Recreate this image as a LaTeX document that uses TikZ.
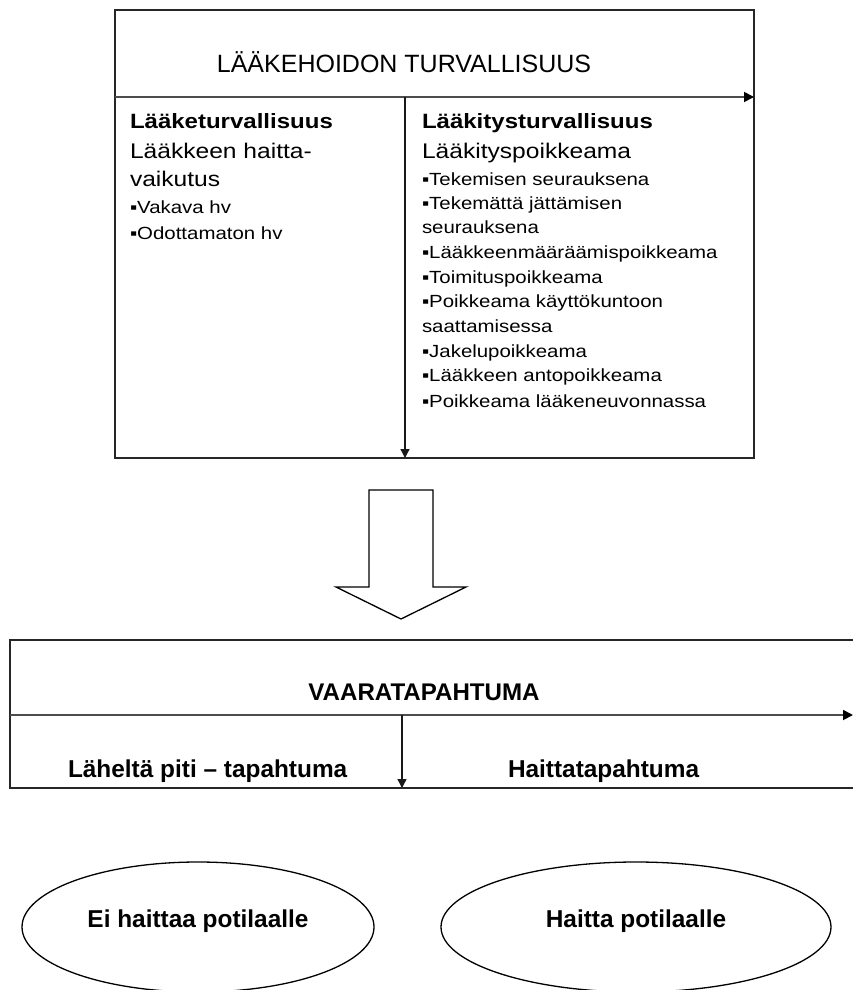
\documentclass[tikz,border=0pt]{standalone}
\usepackage{fontspec}
\setmainfont{Liberation Sans}
\newfontfamily\widesans[FakeStretch=1.16]{Liberation Sans}
\usetikzlibrary{arrows.meta,shapes.geometric}

\begin{document}
\begin{tikzpicture}[x=1pt,y=-1pt,
  frame/.style={draw=black!85, line width=1.6pt},
  flowline/.style={draw=black!70, line width=1.8pt, -{Triangle[length=10pt,width=10pt,color=black]}},
  split/.style={draw=black!90, line width=1.3pt, -{Triangle[length=9pt,width=9pt]}},
  txt/.style={anchor=base west, inner sep=0pt, outer sep=0pt},
  head/.style={txt, font=\widesans\bfseries\fontsize{20.7}{24}\selectfont},
  sub/.style={txt, font=\widesans\fontsize{21.2}{24}\selectfont},
  item/.style={txt, font=\widesans\fontsize{17.6}{20}\selectfont},
  title/.style={anchor=base, inner sep=0pt, font=\fontsize{25}{30}\selectfont},
  label/.style={txt, font=\bfseries\fontsize{24.4}{29}\selectfont},
  outcome/.style={ellipse, draw=black, line width=1.3pt, inner sep=0pt,
    text height=12pt, text depth=12pt,
    font=\bfseries\fontsize{24.4}{29}\selectfont}
]
\useasboundingbox (0,0) rectangle (853,990);
\clip (0,0) rectangle (853,990);

% ---- upper panel: medication safety ----
\node[frame, minimum width=639pt, minimum height=448pt, inner sep=0pt, outer sep=0pt]
  (topbox) at (434.5,234) {};
\node[title] (toptitle) at (404,72) {LÄÄKEHOIDON TURVALLISUUS};
\coordinate (tl) at (115,97);
\coordinate (tr) at (754,97);
\coordinate (tsplit) at (405,97);
\coordinate (tbottom) at (405,458);
\draw[flowline] (tl) -- (tr);
\draw[split] (tsplit) -- (tbottom);

% left column
\node[head] (l1) at (130,128) {Lääketurvallisuus};
\node[sub]  (l2) at (130,158) {Lääkkeen haitta-};
\node[sub]  (l3) at (130,186) {vaikutus};
\node[item] (l4) at (130,213) {▪Vakava hv};
\node[item] (l5) at (130,239) {▪Odottamaton hv};

% right column
\node[head] (r1)  at (422,128) {Lääkitysturvallisuus};
\node[sub]  (r2)  at (422,158) {Lääkityspoikkeama};
\node[item] (r3)  at (422,185) {▪Tekemisen seurauksena};
\node[item] (r4)  at (422,209) {▪Tekemättä jättämisen};
\node[item] (r5)  at (422,233) {seurauksena};
\node[item] (r6)  at (422,258) {▪Lääkkeenmääräämispoikkeama};
\node[item] (r7)  at (422,283) {▪Toimituspoikkeama};
\node[item] (r8)  at (422,307) {▪Poikkeama käyttökuntoon};
\node[item] (r9)  at (422,332) {saattamisessa};
\node[item] (r10) at (422,357) {▪Jakelupoikkeama};
\node[item] (r11) at (422,381) {▪Lääkkeen antopoikkeama};
\node[item] (r12) at (422,407) {▪Poikkeama lääkeneuvonnassa};

% ---- hollow block arrow ----
\draw[draw=black, line width=1.3pt, fill=white, line join=miter]
  (369,490) -- (433,490) -- (433,587) -- (466,587) -- (401,619)
  -- (336,587) -- (369,587) -- cycle;

% ---- lower panel: adverse event (open to the right) ----
\node[inner sep=0pt, outer sep=0pt, minimum width=843pt, minimum height=148pt]
  (lowbox) at (431.5,714) {};
\draw[frame] (lowbox.north east) -- (lowbox.north west)
  -- (lowbox.south west) -- (lowbox.south east);
\node[title, font=\bfseries\fontsize{24.1}{29}\selectfont] (lowtitle) at (424,700) {VAARATAPAHTUMA};
\coordinate (bl) at (10,715);
\coordinate (br) at (853,715);
\coordinate (bsplit) at (402,715);
\coordinate (bbottom) at (402,788);
\draw[flowline] (bl) -- (br);
\draw[split] (bsplit) -- (bbottom);
\node[label] (near) at (68,777) {Läheltä piti – tapahtuma};
\node[label] (harm) at (508,777) {Haittatapahtuma};

% ---- outcomes ----
\node[outcome, minimum width=352pt, minimum height=130pt] (noharm) at (198,927)
  {Ei haittaa potilaalle};
\node[outcome, minimum width=390pt, minimum height=130pt] (harmed) at (636,927)
  {Haitta potilaalle};
\end{tikzpicture}
\end{document}
